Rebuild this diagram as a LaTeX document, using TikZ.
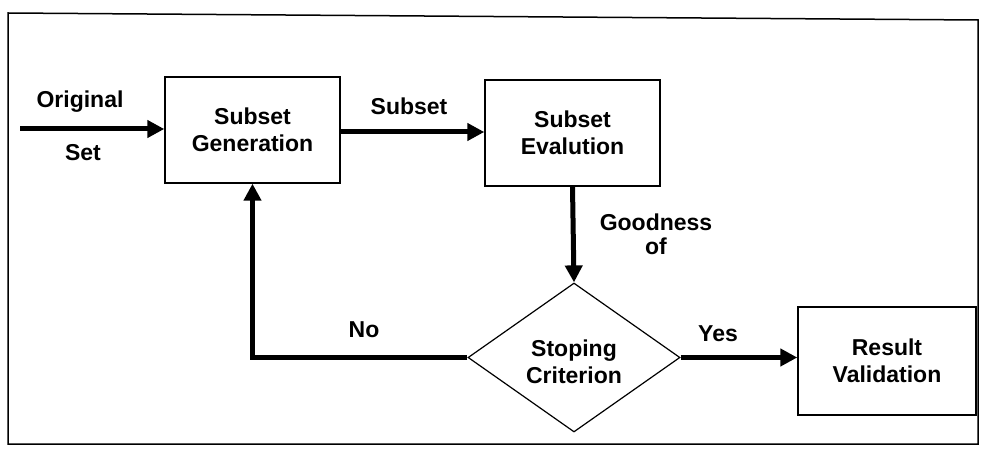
\documentclass[tikz,border=0pt]{standalone}
\usepackage{fontspec}
\setmainfont{Liberation Sans}
\usetikzlibrary{arrows.meta,shapes.geometric}
\begin{document}
\begin{tikzpicture}[x=1pt,y=-1pt,
  txt/.style={font=\fontsize{23}{27}\selectfont\bfseries,align=center,inner sep=0pt},
  stepbox/.style={draw,line width=1.4pt,minimum width=175pt,minimum height=106pt,txt},
  flow/.style={line width=5pt,-{Triangle[length=17pt,width=17pt]}},
  link/.style={line width=5pt}]
\useasboundingbox (0,0) rectangle (985,454);
% outer frame
\draw[line width=1.5pt] (8,13) -- (978,20) -- (978,444) -- (8,444) -- cycle;
% blocks
\node[stepbox] (gen) at (252.5,130) {Subset\\Generation};
\node[stepbox] (eval) at (572.5,133) {Subset\\Evalution};
\node[diamond,draw,line width=1.2pt,minimum width=212pt,minimum height=149pt,inner sep=0pt,aspect=1.42] (stop) at (574,357.5) {};
\node[txt] at (574,362) {Stoping\\Criterion};
\node[stepbox,minimum width=178pt,minimum height=108pt] (res) at (887,361) {Result\\Validation};
% connectors
\coordinate (src) at (20,129);
\draw[flow] (src) -- (gen.west |- src);
\draw[flow] (gen.east |- 0,132) -- (eval.west |- 0,132);
\draw[flow] (eval.south) -- (stop.north);
\draw[flow] (stop.east) -- (res.west |- stop.east);
\draw[flow] (stop.west) -- (gen.south |- stop.west) -- (gen.south);
% labels
\node[txt] at (80,102) {Original};
\node[txt] at (83,153) {Set};
\node[txt] at (409,106) {Subset};
\node[txt] at (656,222) {Goodness};
\node[txt] at (656,246) {of};
\node[txt] at (364,330) {No};
\node[txt] at (718,334) {Yes};
\end{tikzpicture}
\end{document}
